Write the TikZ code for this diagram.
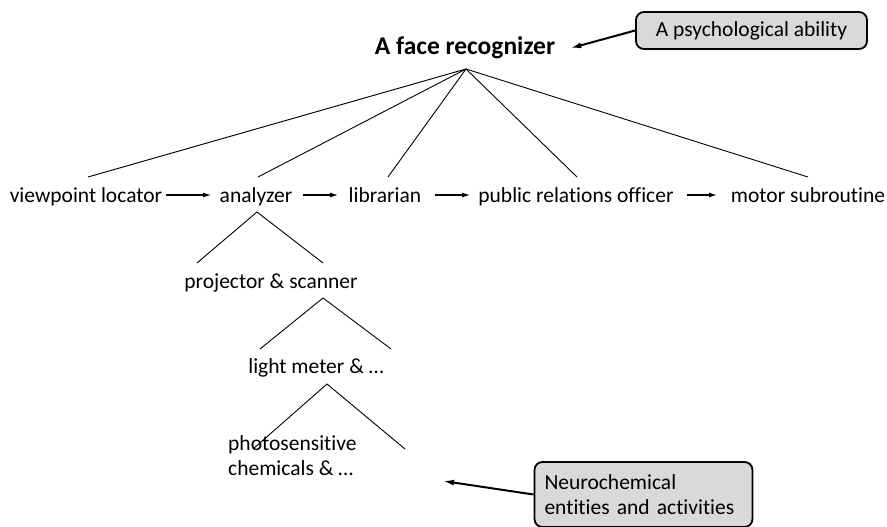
\documentclass[tikz,border=0pt]{standalone}
\usepackage{fontspec}
\setmainfont{Carlito}[Ligatures=NoCommon]
\usetikzlibrary{arrows.meta}
\definecolor{boxgray}{HTML}{D9D9D9}
\begin{document}
\begin{tikzpicture}[x=1pt,y=-1pt,
  lbl/.style={font=\fontsize{21.5}{25}\selectfont, inner sep=0pt, anchor=base},
  callout/.style={draw=black, line width=1.8pt, fill=boxgray, rounded corners=8pt,
    font=\fontsize{21.5}{25}\selectfont},
  branch/.style={line width=0.9pt},
  flow/.style={line width=1.1pt, -{Latex[length=8pt,width=5pt]}},
  point/.style={line width=2pt, -{Latex[length=11pt,width=6pt]}}]
\useasboundingbox (0,0) rectangle (887,527);

% title
\node[lbl, font=\fontsize{25.5}{30}\selectfont\bfseries] (title) at (465,55) {A face recognizer};
\coordinate (apex) at (466,69);

% row
\node[lbl] (vp) at (86,202) {viewpoint locator};
\node[lbl] (an) at (256,202) {analyzer};
\node[lbl] (li) at (385,202) {librarian};
\node[lbl] (pr) at (576,202) {public relations officer};
\node[lbl] (mo) at (808,202) {motor subroutine};

\coordinate (e1) at (88,177);
\coordinate (e2) at (258,177);
\coordinate (e3) at (388,177);
\coordinate (e4) at (577,177);
\coordinate (e5) at (808,177);
\foreach \e in {e1,e2,e3,e4,e5} \draw[branch] (apex) -- (\e);

\coordinate (f1s) at (166,195); \coordinate (f1e) at (211,195);
\coordinate (f2s) at (303,195); \coordinate (f2e) at (338,195);
\coordinate (f3s) at (435,195); \coordinate (f3e) at (470,195);
\coordinate (f4s) at (687,195); \coordinate (f4e) at (717,195);
\draw[flow] (f1s) -- (f1e);
\draw[flow] (f2s) -- (f2e);
\draw[flow] (f3s) -- (f3e);
\draw[flow] (f4s) -- (f4e);

% analyzer subtree
\coordinate (a1) at (257,212);
\coordinate (a1l) at (197,263);
\coordinate (a1r) at (323,263);
\draw[branch] (a1l) -- (a1) -- (a1r);
\node[lbl] (ps) at (271,288) {projector \& scanner};

\coordinate (a2) at (323,298);
\coordinate (a2l) at (260,349);
\coordinate (a2r) at (391,349);
\draw[branch] (a2l) -- (a2) -- (a2r);
\node[lbl] (lm) at (316,373) {light meter \& \dots};

\coordinate (a3) at (327,384);
\coordinate (a3l) at (253,449);
\coordinate (a3r) at (405,449);
\draw[branch] (a3l) -- (a3) -- (a3r);
\node[lbl, anchor=base west, align=left] (ph) at (228,475) {photosensitive\\chemicals \& \dots};

% callouts
\node[callout, minimum width=231pt, minimum height=37pt, inner sep=0pt] (psy) at (751.5,30.5) {A psychological ability};
\draw[point] (psy.west) -- ([xshift=15pt]title.east);

\node[callout, minimum width=217pt, minimum height=65pt, text width=198pt, align=left, inner xsep=10pt, inner ysep=0pt] (neu) at (643.5,494.5) {Neurochemical\\entities and activities};
\coordinate (phTip) at (443,481);
\draw[point] (neu.west) -- (phTip);
\end{tikzpicture}
\end{document}
